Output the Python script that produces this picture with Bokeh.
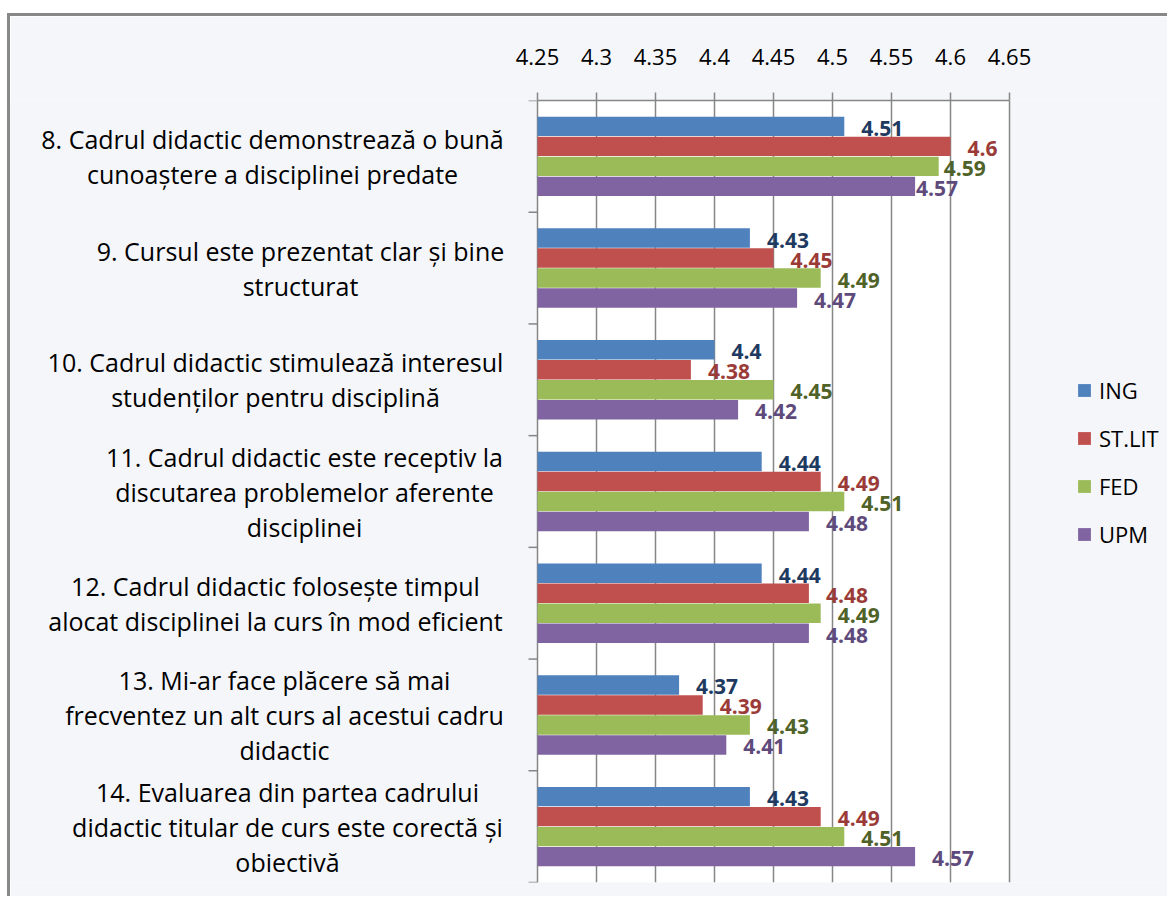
from bokeh.plotting import figure
from bokeh.models import (Range1d, FixedTicker, Legend, LegendItem,
                          ColumnDataSource)
from bokeh.core.properties import value
from bokeh.embed import file_html
from bokeh.resources import INLINE

# ---------------- data ----------------
categories = [
    "8. Cadrul didactic demonstrează o bună\ncunoaștere a disciplinei predate",
    "9. Cursul este prezentat clar și bine\nstructurat",
    "10. Cadrul didactic stimulează interesul\nstudenților pentru disciplină",
    "11. Cadrul didactic este receptiv la\ndiscutarea problemelor aferente\ndisciplinei",
    "12. Cadrul didactic folosește timpul\nalocat disciplinei la curs în mod eficient",
    "13. Mi-ar face plăcere să mai\nfrecventez un alt curs al acestui cadru\ndidactic",
    "14. Evaluarea din partea cadrului\ndidactic titular de curs este corectă și\nobiectivă",
]
series_names = ["ING", "ST.LIT", "FED", "UPM"]
ing = [4.51, 4.43, 4.40, 4.44, 4.44, 4.37, 4.43]
st_lit = [4.60, 4.45, 4.38, 4.49, 4.48, 4.39, 4.49]
fed = [4.59, 4.49, 4.45, 4.51, 4.49, 4.43, 4.51]
upm = [4.57, 4.47, 4.42, 4.48, 4.48, 4.41, 4.57]
x_ticks = [4.25, 4.30, 4.35, 4.40, 4.45, 4.50, 4.55, 4.60, 4.65]
x_tick_labels = ["4.25", "4.3", "4.35", "4.4", "4.45", "4.5", "4.55", "4.6", "4.65"]

# ---------------- style / layout ----------------
bar_colors = ["#4F81BD", "#C0504D", "#9BBB59", "#8064A2"]
label_colors = ["#1F3A60", "#9B3B38", "#4F6228", "#5F4A7C"]
FONT = "Open Sans"
GRID = "#868686"
BG = "#F5F6FA"
x_start, x_end = x_ticks[0], x_ticks[-1]
n = len(categories)

W, H = 1160, 883
PLOT_L, PLOT_W = 527, 472          # plot-area position inside the canvas (px)
TOP, FRAME_H = 84, 782
px = (x_end - x_start) / PLOT_W    # data units per pixel
x_lo = x_start - PLOT_L * px
x_hi = x_start + (W - PLOT_L) * px

p = figure(width=W, height=H,
           x_range=Range1d(x_lo, x_hi), y_range=Range1d(n, 0),
           x_axis_location="above", y_axis_location=None,
           output_backend="svg", toolbar_location=None,
           min_border_left=0, min_border_right=0,
           min_border_top=TOP, min_border_bottom=H - TOP - FRAME_H)
p.styles = {"margin-left": "7px", "margin-top": "13px",
            "border-left": "3px solid #888888", "border-top": "3px solid #888888"}
p.background_fill_color = BG
p.border_fill_color = BG
p.outline_line_color = None

# white plot area
p.quad(left=[x_start], right=[x_end], top=[0], bottom=[n],
       fill_color="white", line_color=None, level="image")

# grid
p.xgrid.ticker = FixedTicker(ticks=x_ticks)
p.xgrid.grid_line_color = GRID
p.xgrid.grid_line_width = 1.5
p.ygrid.visible = False

# x axis (top)
xa = p.xaxis[0]
xa.bounds = (x_start, x_end)
xa.ticker = FixedTicker(ticks=x_ticks)
xa.major_label_overrides = {t: s for t, s in zip(x_ticks, x_tick_labels)}
xa.major_label_text_font = FONT
xa.major_label_text_font_size = "22px"
xa.major_label_text_color = "black"
xa.major_label_standoff = 28
xa.axis_line_color = GRID
xa.axis_line_width = 1.5
xa.major_tick_line_color = GRID
xa.major_tick_line_width = 1.5
xa.major_tick_out = 8
xa.major_tick_in = 0
xa.minor_tick_line_color = None

# category-boundary ticks on the left edge of the plot area
tick_len = 9 * px
p.segment(x0=[x_start - tick_len] * (n + 1), x1=[x_start] * (n + 1),
          y0=list(range(n + 1)), y1=list(range(n + 1)),
          line_color=GRID, line_width=1.5)

# bars + value labels
pitch = 0.179
bar_h = 0.174
label_gap = 17                              # px between bar end and its label
label_gap_override = {(0, 2): 5, (0, 3): 1}  # labels nudged left in the original
series = [ing, st_lit, fed, upm]
items = []
for k, (name, vals) in enumerate(zip(series_names, series)):
    off = (k - 1.5) * pitch
    src = ColumnDataSource(dict(
        y=[i + 0.5 + off for i in range(n)],
        left=[x_start] * n,
        right=vals,
        label=[f"{v:g}" for v in vals],
        dx=[label_gap_override.get((i, k), label_gap) for i in range(n)],
    ))
    r = p.hbar(y="y", left="left", right="right", height=bar_h,
               fill_color=bar_colors[k], line_color=None, source=src)
    p.text(x="right", y="y", text="label", source=src, x_offset="dx", y_offset=2,
           text_baseline="middle", text_align="left",
           text_font=value(FONT), text_font_style="bold",
           text_font_size="21px", text_color=label_colors[k])
    items.append(LegendItem(label=name, renderers=[r]))

legend = Legend(items=items, location=(1066, 333),
                glyph_width=16, glyph_height=16, label_standoff=7,
                label_text_font=FONT, label_text_font_size="22px",
                label_text_color="black", spacing=18, padding=0, margin=0,
                border_line_color=None, background_fill_alpha=0)
p.add_layout(legend, "center")

# category labels: each block's lines centred on a common axis
block_centers = [272, 300, 275, 304, 275, 284, 287]   # page px
line_gap = 35
lx, ly, ltxt, lyo = [], [], [], []
for i, cat in enumerate(categories):
    lines = cat.split("\n")
    m = len(lines)
    for j, line in enumerate(lines):
        lx.append(x_start + (block_centers[i] - 537) * px)
        ly.append(i + 0.5)
        ltxt.append(line)
        lyo.append((j - (m - 1) / 2) * line_gap)
p.text(x="x", y="y", text="t", y_offset="yo",
       source=ColumnDataSource(dict(x=lx, y=ly, t=ltxt, yo=lyo)),
       text_align="center", text_baseline="middle",
       text_font=value(FONT), text_font_size="25px", text_color="black")

open("out.html", "w").write(file_html(p, INLINE))
